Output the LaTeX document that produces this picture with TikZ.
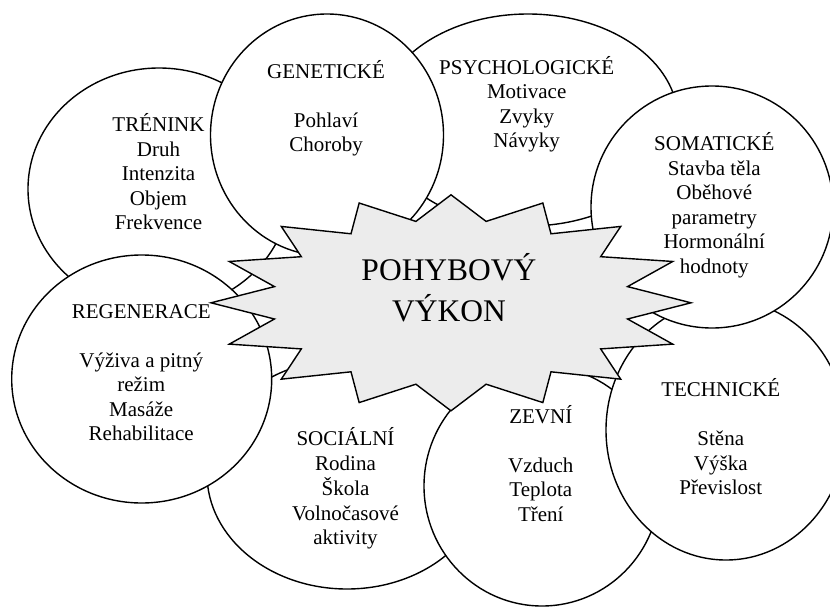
\documentclass[tikz,border=0pt]{standalone}
\usepackage{fontspec}
\setmainfont{Liberation Serif}
\usetikzlibrary{shapes.geometric}
\tikzset{
  bubble/.style={ellipse, draw=black, fill=white, line width=1.4pt, inner sep=0pt, outer sep=0pt},
  lab/.style={anchor=base, inner sep=0pt, font=\fontsize{21}{24.5}\selectfont},
  biglab/.style={anchor=base, inner sep=0pt, font=\fontsize{31.5}{41.7}\selectfont},
  burst/.style={draw=black, fill=gray!15, line width=1.4pt, line join=miter},
}
\newcommand\cellines[1]{\begin{tabular}[t]{@{}c@{}}#1\end{tabular}}
\begin{document}
\begin{tikzpicture}[x=1pt, y=-1pt]
\useasboundingbox (0,0) rectangle (830,608);
\clip (0,0) rectangle (830,608);
\fill[white] (0,0) rectangle (830,608);

% lower layer
\node[bubble, minimum width=262pt, minimum height=242pt] (trenink) at (159,189) {};
\node[lab] (ttrenink) at (158.5,131.7) {\cellines{TRÉNINK\\Druh\\Intenzita\\Objem\\Frekvence}};

\node[bubble, minimum width=300pt, minimum height=212pt] (psych) at (528,120) {};
\node[lab] (tpsych) at (526.7,74) {\cellines{PSYCHOLOGICKÉ\\Motivace\\Zvyky\\Návyky}};

\node[bubble, minimum width=280pt, minimum height=230pt] (social) at (347,474) {};
\node[lab] (tsocial) at (345.5,445.7) {\cellines{SOCIÁLNÍ\\Rodina\\Škola\\Volnočasové\\aktivity}};

% upper layer
\node[bubble, minimum width=233pt, minimum height=242pt] (genet) at (327,135) {};
\node[lab] (tgenet) at (326,78.3) {\cellines{GENETICKÉ\\ \\Pohlaví\\Choroby}};

\node[bubble, minimum width=260pt, minimum height=248pt] (regen) at (141.7,379) {};
\node[lab] (tregen) at (141.2,318.3) {\cellines{REGENERACE\\ \\Výživa a pitný\\režim\\Masáže\\Rehabilitace}};

\node[bubble, minimum width=236pt, minimum height=240pt] (zevni) at (542,486) {};
\node[lab] (tzevni) at (540.8,423.3) {\cellines{ZEVNÍ\\ \\Vzduch\\Teplota\\Tření}};

\node[bubble, minimum width=240pt, minimum height=260pt] (tech) at (726,430) {};
\node[lab] (ttech) at (720.8,396.7) {\cellines{TECHNICKÉ\\ \\Stěna\\Výška\\Převislost}};

\node[bubble, minimum width=242pt, minimum height=242pt] (somat) at (712,207) {};
\node[lab] (tsomat) at (714.3,150.7) {\cellines{SOMATICKÉ\\Stavba těla\\Oběhové\\parametry\\Hormonální\\hodnoty}};

% central burst
\begin{scope}[shift={(451,302.8)}]
\draw[burst] (0:240 and 108)
  \foreach \i in {0,...,14}{ -- (\i*22.5+11.25:180 and 83) -- (\i*22.5+22.5:240 and 108)}
  -- (348.75:180 and 83) -- cycle;
\end{scope}
\node[biglab] (core) at (449,280) {\begin{tabular}[t]{@{}c@{}}POHYBOVÝ\\VÝKON\end{tabular}};
\end{tikzpicture}
\end{document}
